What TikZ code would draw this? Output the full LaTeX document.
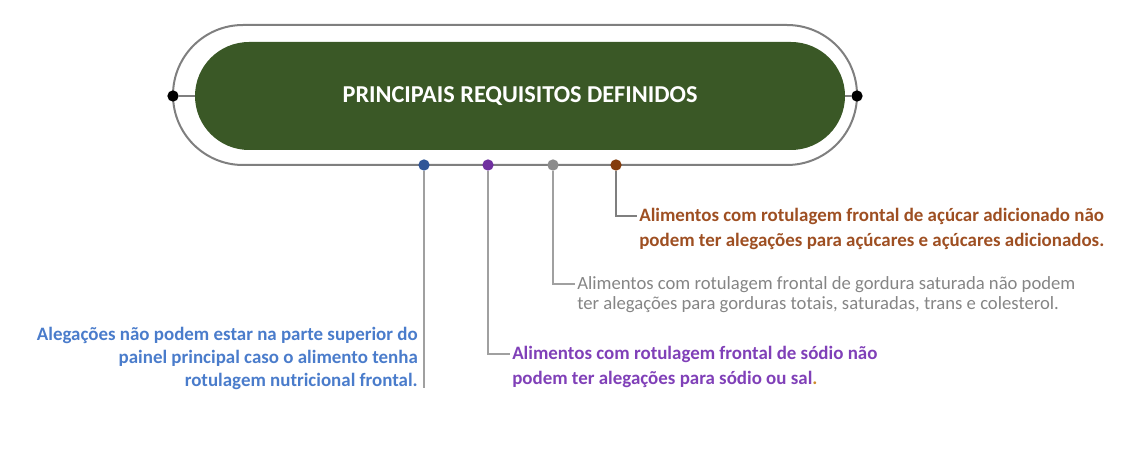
\documentclass[tikz,border=0pt]{standalone}
\usepackage{fontspec}
\setmainfont{Carlito}
\usetikzlibrary{shapes.misc}
\definecolor{darkgreen}{HTML}{3A5826}
\definecolor{frame}{HTML}{7F7F7F}
\definecolor{conn}{HTML}{A0A0A0}
\definecolor{cblue}{HTML}{2F5597}
\definecolor{tblue}{HTML}{4A7CCB}
\definecolor{cpurple}{HTML}{7030A0}
\definecolor{tpurple}{HTML}{8040B8}
\definecolor{cgray}{HTML}{8C8C8C}
\definecolor{tgray}{HTML}{858585}
\definecolor{cbrown}{HTML}{843C0C}
\definecolor{tbrown}{HTML}{9E4F22}
\definecolor{dotorange}{HTML}{D08A2A}
\begin{document}
\begin{tikzpicture}[x=0.75pt,y=-0.75pt,
  dotnode/.style={circle,inner sep=0pt,minimum size=8.5pt},
  connline/.style={draw=conn,line width=1.5pt},
  label/.style={inner sep=0pt,font=\fontsize{14.2}{18.75}\selectfont\bfseries}]
\useasboundingbox (0,0) rectangle (1134,466);
\node[rounded rectangle,draw=frame,line width=1.5pt,minimum width=513pt,minimum height=105pt,inner sep=0pt] (outer) at (515,95) {};
\node[rounded rectangle,fill=darkgreen,minimum width=487.5pt,minimum height=81pt,inner sep=0pt,text=white,font=\fontsize{18.2}{20}\selectfont\bfseries] (title) at (520,96) {PRINCIPAIS REQUISITOS DEFINIDOS};
\node[dotnode,fill=black] (dl) at (173,96) {};
\node[dotnode,fill=black] (dr) at (857,96) {};
\draw[draw=frame,line width=1.5pt] (dl) -- (title.west);
\draw[draw=frame,line width=1.5pt] (title.east) -- (dr);
\node[dotnode,fill=cblue] (db) at (424,165) {};
\node[dotnode,fill=cpurple] (dp) at (488,165) {};
\node[dotnode,fill=cgray] (dg) at (553,165) {};
\node[dotnode,fill=cbrown] (dbr) at (616,165) {};
% texts
\coordinate (ebr) at (637,216);
\coordinate (eg) at (575,284);
\coordinate (ep) at (510,354);
\coordinate (eb) at (424,388);
\node[label,text=tbrown,align=left,anchor=north west] (tbr) at (639,208)
 {Alimentos com rotulagem frontal de açúcar adicionado não\\podem ter alegações para açúcares e açúcares adicionados.};
\node[label,text=tgray,align=left,anchor=north west,font=\fontsize{14}{15.5}\selectfont] (tg) at (577,276)
 {Alimentos com rotulagem frontal de gordura saturada não podem\\ter alegações para gorduras totais, saturadas, trans e colesterol.};
\node[label,text=tpurple,align=left,anchor=north west] (tp) at (512,346)
 {Alimentos com rotulagem frontal de sódio não\\podem ter alegações para sódio ou sal\textcolor{dotorange}{.}};
\node[label,text=tblue,align=right,anchor=north east,font=\fontsize{14.2}{17.2}\selectfont\bfseries] (tb) at (418,327)
 {Alegações não podem estar na parte superior do\\painel principal caso o alimento tenha\\rotulagem nutricional frontal.};
% connectors
\draw[connline] (db) -- (eb);
\draw[connline] (dp) |- (ep);
\draw[connline] (dg) |- (eg);
\draw[connline,draw=frame] (dbr) |- (ebr);
\end{tikzpicture}
\end{document}
